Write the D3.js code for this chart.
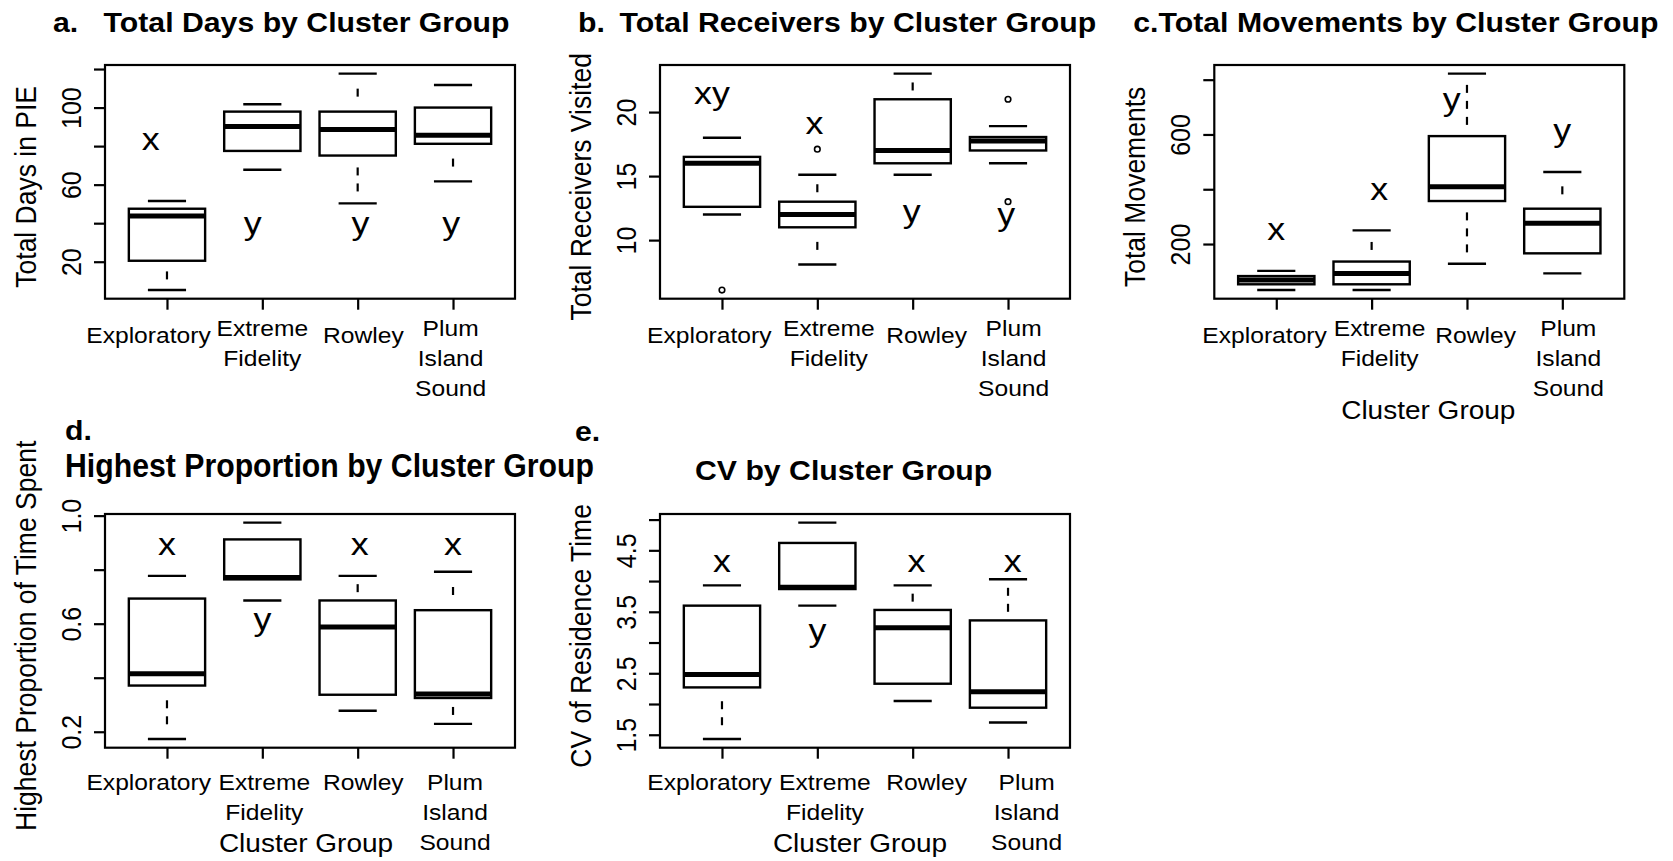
<!DOCTYPE html>
<html>
<head>
<meta charset="utf-8">
<script src="https://cdn.jsdelivr.net/npm/d3@7"></script>
<style>
  body { margin: 0; background: #fff; }
</style>
</head>
<body>
<svg id="chart" width="1673" height="861"></svg>
<script>
// groups on every x axis
var groups = ["Exploratory", "Extreme\nFidelity", "Rowley", "Plum\nIsland\nSound"];

// [lower whisker, Q1, median, Q3, upper whisker] per group
var daysStats = [[5.3, 20.5, 43.7, 47.5, 51.5], [67.7, 77.5, 90.2, 97.9, 101.7], [50.3, 75.1, 88.6, 97.9, 117.6], [61.7, 81.2, 85.6, 100, 111.7]];
var receiversStats = [[12, 12.6, 16, 16.5, 18], [8.1, 11, 12, 13, 15.1], [15.1, 16, 17, 21, 23], [16, 17, 17.75, 18.05, 18.9]];
var movementsStats = [[32, 53, 69, 83, 102], [32, 53, 92, 136, 250], [128, 357, 409, 594, 822], [93, 166, 276, 329, 463]];
var proportionStats = [[0.173, 0.371, 0.415, 0.693, 0.777], [0.686, 0.764, 0.771, 0.912, 0.974], [0.278, 0.337, 0.588, 0.686, 0.777], [0.229, 0.325, 0.34, 0.65, 0.792]];
var cvStats = [[1.43, 2.27, 2.48, 3.6, 3.93], [3.6, 3.87, 3.9, 4.62, 4.95], [2.05, 2.33, 3.24, 3.53, 3.93], [1.7, 1.94, 2.2, 3.36, 4.03]];

var noOutliers = [[], [], [], []];
var receiversOutliers = [[6.1], [17.1], [], [21, 13]];

// significance letters: [x position in group units, value, letter]
var daysLetters = [[0.83, 77.9, "x"], [1.9, 34.5, "y"], [3.03, 34.5, "y"], [3.98, 34.5, "y"]];
var receiversLetters = [[0.895, 20.65, "xy"], [1.97, 18.3, "x"], [2.99, 11.45, "y"], [3.98, 11.15, "y"]];
var movementsLetters = [[1.0, 215, "x"], [2.08, 360, "x"], [2.84, 689, "y"], [4.0, 577, "y"]];
var proportionLetters = [[1.0, 0.854, "x"], [2.0, 0.575, "y"], [3.02, 0.854, "x"], [4.0, 0.854, "x"]];
var cvLetters = [[1.0, 4.15, "x"], [2.0, 3.02, "y"], [3.04, 4.15, "x"], [4.05, 4.15, "x"]];

// y ticks, and the ones that carry a label
var daysTicks = [20, 40, 60, 80, 100, 120], daysTickLabels = [20, 60, 100];
var receiversTicks = [10, 15, 20], receiversTickLabels = [10, 15, 20];
var movementsTicks = [200, 400, 600, 800], movementsTickLabels = [200, 600];
var proportionTicks = [0.2, 0.4, 0.6, 0.8, 1.0], proportionTickLabels = [0.2, 0.6, 1.0];
var cvTicks = [1.5, 2, 2.5, 3, 3.5, 4, 4.5, 5], cvTickLabels = [1.5, 2.5, 3.5, 4.5];

var SX = 1.12; // the figure is a bit wider than its fonts
var FONT = "'Liberation Sans', Arial, Helvetica, sans-serif";
var W = 410, H = 233.7;

var svg = d3.select("#chart");

function txt(g, x, y, s, o) {
    o = o || {};
    var t = "translate(" + x + "," + y + ") scale(" + SX + "," + (o.sy || 1) + ")" + (o.rotate ? " rotate(-90)" : "");
    return g.append("text")
        .attr("transform", t)
        .attr("text-anchor", o.anchor || "middle")
        .attr("font-family", FONT)
        .attr("font-size", o.size || 22)
        .attr("font-weight", o.bold ? "bold" : "normal")
        .attr("fill", "#000")
        .text(s);
}

var panels = [
    {stats: daysStats, outliers: noOutliers, letters: daysLetters, ticks: daysTicks, tickLabels: daysTickLabels, fmt: d3.format("d"),
     ylab: "Total Days in PIE", left: 105, top: 65, row: 0, nudge: [-18.5, 0, 5.7, -2.4],
     tag: "a.", tagX: 53, title: "Total Days by Cluster Group", titleX: 103.6, titleY: 31.7},
    {stats: receiversStats, outliers: receiversOutliers, letters: receiversLetters, ticks: receiversTicks, tickLabels: receiversTickLabels, fmt: d3.format("d"),
     ylab: "Total Receivers Visited", left: 660, top: 65, row: 0, nudge: [-12.7, 11.5, 14, 5.6],
     tag: "b.", tagX: 578, title: "Total Receivers by Cluster Group", titleX: 619.6, titleY: 31.7},
    {stats: movementsStats, outliers: noOutliers, letters: movementsLetters, ticks: movementsTicks, tickLabels: movementsTickLabels, fmt: d3.format("d"),
     ylab: "Total Movements", left: 1214.3, top: 65, row: 0, nudge: [-11.7, 8, 8.7, 6], xlab: 9,
     tag: "", title: "c.Total Movements by Cluster Group", titleX: 1133.3, titleY: 31.7},
    {stats: proportionStats, outliers: noOutliers, letters: proportionLetters, ticks: proportionTicks, tickLabels: proportionTickLabels, fmt: d3.format(".1f"),
     ylab: "Highest Proportion of Time Spent", left: 105, top: 514, row: 1, nudge: [-18.3, 2, 5.6, 2], xlab: -4,
     tag: "d.", tagX: 65, tagY: 440, title: "Highest Proportion by Cluster Group", titleX: 65, titleY: 476.7, titleSy: 1.25},
    {stats: cvStats, outliers: noOutliers, letters: cvLetters, ticks: cvTicks, tickLabels: cvTickLabels, fmt: d3.format(".1f"),
     ylab: "CV of Residence Time", left: 660, top: 514, row: 1, nudge: [-12.4, 7.6, 14, 18.6], xlab: -5,
     tag: "e.", tagX: 575, tagY: 441, title: "CV by Cluster Group", titleX: 695, titleY: 480}
];

panels.forEach(function (p) {
    var g = svg.append("g").attr("transform", "translate(" + p.left + "," + p.top + ")");

    var all = d3.merge(p.stats.concat(p.outliers));
    var ext = d3.extent(all), pad = (ext[1] - ext[0]) * 0.04;
    var y = d3.scaleLinear().domain([ext[0] - pad, ext[1] + pad]).range([H, 0]);
    var x = d3.scaleLinear().domain([0.35, 4.65]).range([0, W]);
    var half = x(1.4) - x(1), cap = half / 2;

    // boxes
    var box = g.selectAll("g.box")
        .data(p.stats)
        .enter().append("g")
        .attr("class", "box");

    box.each(function (s, i) {
        var b = d3.select(this), cx = x(i + 1);
        [[s[1], s[0]], [s[3], s[4]]].forEach(function (w) {
            var a = y(w[0]), e = y(w[1]);
            var lo = Math.min(a, e), L = Math.abs(a - e);
            var n = Math.floor((L - 8) / 16);
            if (n > 0) {
                var start = lo + (L - (16 * n - 8)) / 2;
                d3.range(n).forEach(function (k) {
                    b.append("line")
                        .attr("x1", cx).attr("x2", cx)
                        .attr("y1", start + 16 * k).attr("y2", start + 16 * k + 8)
                        .attr("stroke", "#000").attr("stroke-width", 2.2);
                });
            }
            b.append("line")
                .attr("x1", cx - cap).attr("x2", cx + cap)
                .attr("y1", e).attr("y2", e)
                .attr("stroke", "#000").attr("stroke-width", 2.4);
        });
        b.append("rect")
            .attr("x", cx - half).attr("width", 2 * half)
            .attr("y", y(s[3])).attr("height", y(s[1]) - y(s[3]))
            .attr("fill", "none").attr("stroke", "#000").attr("stroke-width", 2.4);
        b.append("line")
            .attr("x1", cx - half).attr("x2", cx + half)
            .attr("y1", y(s[2])).attr("y2", y(s[2]))
            .attr("stroke", "#000").attr("stroke-width", 5);
    });

    // outliers
    p.outliers.forEach(function (list, i) {
        g.selectAll(null).data(list).enter().append("circle")
            .attr("cx", x(i + 1)).attr("cy", function (d) { return y(d); })
            .attr("r", 2.8).attr("fill", "none").attr("stroke", "#000").attr("stroke-width", 1.6);
    });

    // letters
    p.letters.forEach(function (l) {
        txt(g, x(l[0]), y(l[1]), l[2], {size: 32});
    });

    // frame
    g.append("rect").attr("width", W).attr("height", H)
        .attr("fill", "none").attr("stroke", "#000").attr("stroke-width", 2.2);

    // y axis
    var yAxis = d3.axisLeft(y).tickValues(p.ticks).tickSize(11).tickSizeOuter(0)
        .tickFormat(function (d) { return p.tickLabels.indexOf(d) >= 0 ? p.fmt(d) : ""; });
    var ya = g.append("g").call(yAxis);
    ya.select(".domain").remove();
    ya.selectAll(".tick line").attr("stroke", "#000").attr("stroke-width", 2.2);
    ya.selectAll(".tick text")
        .attr("x", null).attr("dy", null)
        .attr("transform", "translate(-24,0) scale(" + SX + ",1) rotate(-90)")
        .attr("text-anchor", "middle")
        .attr("font-family", FONT).attr("font-size", 25).attr("fill", "#000");

    // x axis
    var xAxis = d3.axisBottom(x).tickValues([1, 2, 3, 4]).tickSize(11).tickSizeOuter(0).tickFormat("");
    var xa = g.append("g").attr("transform", "translate(0," + H + ")").call(xAxis);
    xa.select(".domain").remove();
    xa.selectAll(".tick line").attr("stroke", "#000").attr("stroke-width", 2.2);

    groups.forEach(function (name, i) {
        var lines = name.split("\n");
        var base = p.row === 0 ? (lines.length > 1 ? 37 : 44) : 42.3;
        lines.forEach(function (line, k) {
            txt(g, x(i + 1) + p.nudge[i], H + base + 30 * k, line, {size: 22});
        });
    });

    // axis titles
    txt(g, -69, H / 2 + 5, p.ylab, {size: 26.5, rotate: true});
    if (p.xlab !== undefined) {
        txt(g, W / 2 + p.xlab, H + (p.row === 0 ? 120.6 : 104), "Cluster Group", {size: 25});
    }

    // titles
    if (p.tag) {
        txt(svg, p.tagX, p.tagY || p.titleY, p.tag, {size: 27, bold: true, anchor: "start"});
    }
    txt(svg, p.titleX, p.titleY, p.title, {size: 27, bold: true, anchor: "start", sy: p.titleSy});
});
</script>
</body>
</html>
